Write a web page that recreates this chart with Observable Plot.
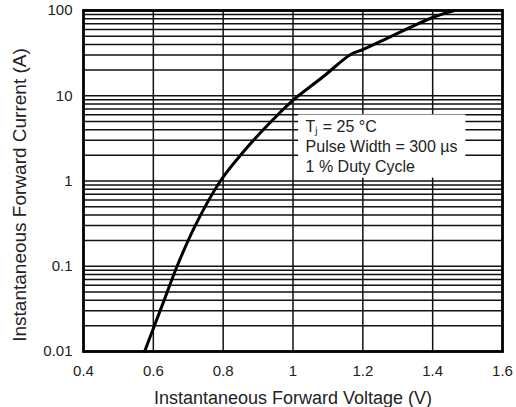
<!DOCTYPE html>
<html>
<head>
<meta charset="utf-8">
<script src="https://cdn.jsdelivr.net/npm/d3@7"></script>
<script src="https://cdn.jsdelivr.net/npm/@observablehq/plot@0.6"></script>
<style>
  html, body { margin: 0; padding: 0; background: #fff; }
  svg { font-family: "Liberation Sans", Arial, sans-serif; }
</style>
</head>
<body>
<div id="chart"></div>
<script>
// Curve data
const voltage = [0.575, 0.600, 0.630, 0.668, 0.720, 0.792, 0.858, 0.927, 0.995, 1.087, 1.165, 1.200, 1.280, 1.400, 1.462];
const current = [0.01, 0.0186, 0.039, 0.1, 0.30, 1.0, 2.2, 4.5, 8.5, 16.8, 30.5, 34.8, 49.5, 82.8, 100];

// Axis ticks
const xTicks = [0.4, 0.6, 0.8, 1.0, 1.2, 1.4, 1.6];
const xTickLabels = ["0.4", "0.6", "0.8", "1", "1.2", "1.4", "1.6"];
const yTicks = [0.01, 0.1, 1, 10, 100];
const yTickLabels = ["0.01", "0.1", "1", "10", "100"];
const xTitle = "Instantaneous Forward Voltage (V)";
const yTitle = "Instantaneous Forward Current (A)";

// Grid lines
const xGrid = [0.6, 0.8, 1.0, 1.2, 1.4];
const decades = [0.01, 0.1, 1, 10];
const mantissas = [1, 2, 3, 4, 5, 6, 7, 8, 9];

// Annotation box (data coordinates) and text
const noteBox = [{x1: 1.016, x2: 1.495, y1: 1.08, y2: 5.95}];
const noteAnchor = [{x: 1.036, y: 5.95}];
const noteText = "T\u2C7C = 25 °C\nPulse Width = 300 µs\n1 % Duty Cycle";

const curve = voltage.map((v, i) => ({v, i: current[i]}));
const yGrid = decades.flatMap(d => mantissas.map(m => +(d * m).toPrecision(3))).concat([100]);
const xLabelOf = new Map(xTicks.map((t, i) => [String(t), xTickLabels[i]]));
const yLabelOf = new Map(yTicks.map((t, i) => [String(t), yTickLabels[i]]));

const chart = Plot.plot({
  width: 516,
  height: 407,
  marginLeft: 83,
  marginRight: 14,
  marginTop: 10,
  marginBottom: 56,
  style: {fontFamily: "Liberation Sans, Arial, sans-serif", fontSize: "15px", color: "#222", background: "#fff"},
  x: {domain: [0.4, 1.6]},
  y: {type: "log", domain: [0.01, 100]},
  marks: [
    Plot.ruleY(yGrid, {stroke: "#111", strokeWidth: 1.5}),
    Plot.ruleX(xGrid, {stroke: "#111", strokeWidth: 1.5}),
    Plot.rect(noteBox, {x1: "x1", x2: "x2", y1: "y1", y2: "y2", fill: "#fff"}),
    Plot.text(noteAnchor, {x: "x", y: "y", text: () => noteText, textAnchor: "start", lineAnchor: "top", lineHeight: 1.25, dy: 3, fontSize: 16, fill: "#222"}),
    Plot.line(curve, {x: "v", y: "i", stroke: "#000", strokeWidth: 3, curve: "catmull-rom"}),
    Plot.frame({stroke: "#000", strokeWidth: 2.8}),
    Plot.axisX(xTicks, {tickSize: 0, tickPadding: 14, tickFormat: d => xLabelOf.get(String(d)), label: null}),
    Plot.axisY(yTicks, {tickSize: 0, tickPadding: 11, tickFormat: d => yLabelOf.get(String(d)), label: null}),
    Plot.text([xTitle], {frameAnchor: "bottom", text: d => d, textAnchor: "middle", lineAnchor: "middle", dy: 47, fontSize: 18, fill: "#222"}),
    Plot.text([yTitle], {frameAnchor: "left", text: d => d, textAnchor: "middle", rotate: -90, lineAnchor: "middle", dx: -63.5, dy: 14, fontSize: 19, fill: "#222"})
  ]
});

document.getElementById("chart").appendChild(chart);
</script>
</body>
</html>
